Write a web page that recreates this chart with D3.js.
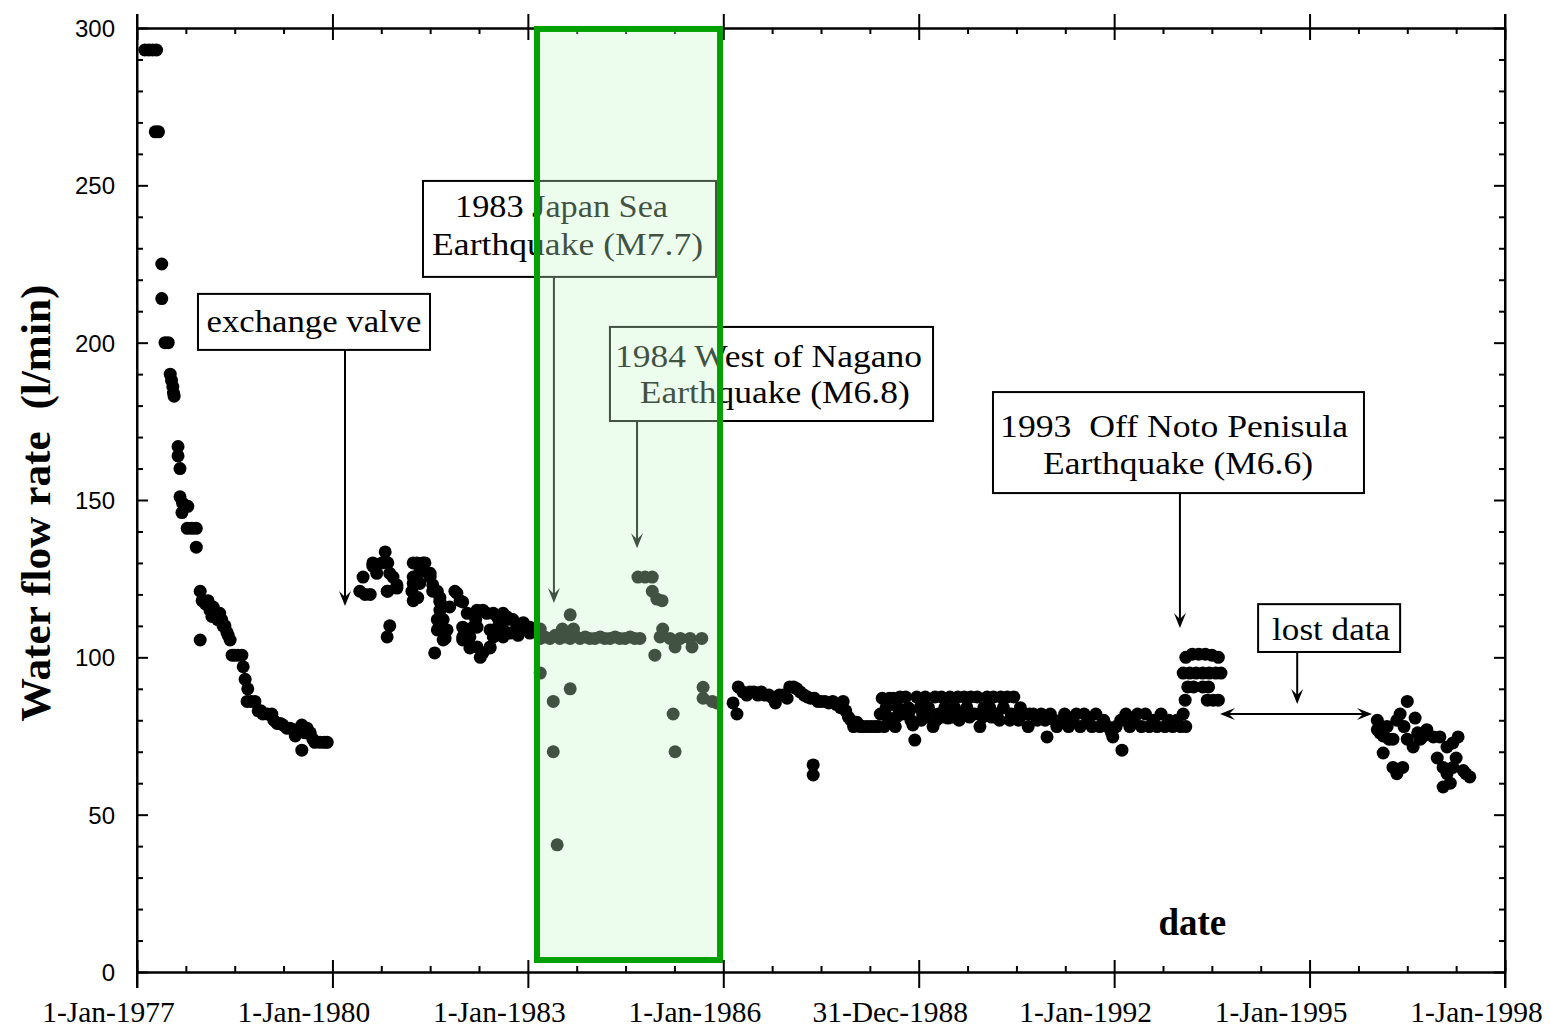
<!DOCTYPE html>
<html><head><meta charset="utf-8">
<script src="https://cdn.jsdelivr.net/npm/d3@7"></script>
<style>
html,body{margin:0;padding:0;background:#fff;}
svg{display:block;}
</style></head>
<body>
<svg id="chart" width="1550" height="1029"></svg>
<script>
// ---------- data: [decimal year, water flow rate (l/min)] ----------
const seg1977 = [
 [1977.12,293],[1977.18,293],[1977.24,293],[1977.30,293],
 [1977.28,267],[1977.33,267],
 [1977.38,225],[1977.38,214],
 [1977.43,200],[1977.48,200],
 [1977.51,190],[1977.53,188],[1977.55,186],[1977.56,184],[1977.57,183],
 [1977.63,167],[1977.63,164],[1977.66,160],
 [1977.66,151],[1977.70,149],[1977.78,148],[1977.69,146],
 [1977.77,141],[1977.84,141],[1977.91,141],
 [1977.91,135],
 [1977.97,121],[1978.00,118],[1978.05,117],[1978.09,118],[1978.12,115],[1978.15,113],[1978.17,116],
 [1978.20,114],[1978.27,114],[1978.24,112],[1978.30,112],[1978.32,110],[1978.35,110],[1978.38,108],
 [1978.40,107],[1978.43,105.5],
 [1977.97,105.5],
 [1978.46,100.7],[1978.50,100.7],[1978.55,100.7],[1978.61,100.7],[1978.63,97],[1978.66,93],[1978.70,90],
 [1978.69,86],[1978.75,86],[1978.81,86],[1978.86,83],[1978.90,83],[1978.93,82],[1979.00,82],[1979.07,82],
 [1979.10,80],[1979.15,79],[1979.20,79],[1979.24,78.5],[1979.30,77.5],[1979.35,77.5],[1979.40,77],
 [1979.43,75],[1979.47,76],[1979.53,78.5],[1979.58,76],
 [1979.61,77.5],[1979.53,70.5],[1979.66,76],[1979.70,74],[1979.73,73],[1979.81,73],[1979.88,73],[1979.92,73]
];
const seg1980 = [
 [1980.47,125.5],[1980.42,121],[1980.50,120],[1980.62,129],[1980.81,133.5],[1980.76,130],
 [1980.88,126.7],[1980.84,121],[1980.99,123],[1980.88,110],[1980.84,106.5],
 [1980.62,130],[1980.85,130],[1980.68,126.7],[1980.93,125.5],[1980.58,120],[1980.85,121],[1980.99,122],
 [1981.24,130],[1981.30,130],[1981.39,130],[1981.42,130],[1981.34,127],[1981.24,125.5],[1981.50,125.5],
 [1981.24,123.5],[1981.34,123.5],[1981.50,126.7],[1981.22,121],[1981.31,119],[1981.54,121],[1981.65,119],
 [1981.54,123],[1981.61,121],[1981.24,118],[1981.65,118],[1981.88,121],[1981.91,120.4],[1981.96,118],
 [1981.65,117.6],[1981.80,116],[1982.00,117.6],
 [1981.65,115],[1981.70,112],[1981.61,112],[1981.61,108.7],[1981.65,108.7],[1981.76,108.7],[1981.70,105.5],
 [1981.73,106],[1981.57,101.4],
 [1982.07,114],[1982.22,115],[1982.37,114],[1982.00,109.6],[1982.11,106.5],[1982.00,105.5],[1982.22,103.3],
 [1982.31,101.4],[1982.42,103.3],
 [1982.00,106.5],[1982.11,103],[1982.27,100],[1982.31,115],[1982.16,109.6],[1982.22,109.6],
 [1982.20,112],[1982.42,103],[1982.47,114],[1982.55,110],[1982.62,114],[1982.42,108.7],
 [1982.53,112.8],[1982.68,112.8],[1982.77,112],[1982.93,111],[1983.03,109.6],
 [1982.62,108.7],[1982.83,108.7],[1982.47,106.5],[1982.62,106.5],
 [1982.68,112],[1982.73,107.7],[1982.83,109.6],[1982.85,107],[1982.93,108.7],[1983.03,107.7]
];
const seg1983 = [
 [1983.19,106],[1983.26,106.5],[1983.34,106],[1983.42,107],[1983.49,106],[1983.57,106.5],
 [1983.65,106],[1983.72,107],[1983.80,106],[1983.88,106.5],[1983.95,106],[1984.03,106],
 [1984.11,106.5],[1984.18,106],[1984.26,106],[1984.34,106.5],[1984.41,106],[1984.49,106],
 [1984.57,106.5],[1984.64,106],[1984.72,106],
 [1983.19,109],[1983.53,109],[1983.70,109],[1983.65,113.5],
 [1983.19,95],[1983.65,90],[1983.39,86],[1983.39,70],[1983.45,40.4],
 [1984.69,125.5],[1984.80,125.5],[1984.91,125.5],[1984.91,121],[1984.98,118.5],[1985.06,118],
 [1985.07,109],[1985.03,106.5],[1985.18,106],[1985.34,106],[1985.49,106],[1985.67,106],
 [1985.26,103.3],[1985.52,103.3],[1984.95,100.7],[1985.23,82],[1985.26,70],
 [1985.69,90.5],[1985.69,87],[1985.83,86],[1985.90,85.5]
];
const seg1986 = [
 [1986.15,85.5],[1986.21,82],[1986.23,90.6],[1986.30,89],[1986.36,88],[1986.41,89],[1986.47,89],
 [1986.53,88],[1986.58,89],[1986.64,88],[1986.70,88],[1986.76,87],[1986.80,85.5],[1986.86,88],
 [1986.92,88],[1986.98,87],[1987.02,90.6],[1987.08,90.6],[1987.13,90],[1987.18,89],[1987.24,88],
 [1987.29,87.4],[1987.34,87],[1987.40,87],[1987.45,86],[1987.50,86],[1987.56,86],[1987.62,85.5],
 [1987.68,86],[1987.74,85],[1987.80,84],[1987.84,86],[1987.88,83],[1987.92,81],[1987.96,80],
 [1988.00,78],[1988.05,79.4],[1988.10,78],[1988.15,78],[1988.21,78],[1988.27,78],[1988.33,78],
 [1988.38,78],[1988.41,82],[1988.44,87],[1988.47,78],[1988.50,84],[1988.55,87],[1988.58,80],
 [1988.61,87],[1988.64,78],[1988.68,84],[1988.71,87.4],[1988.75,82],[1988.80,87.4],[1988.84,84],
 [1988.88,80],[1988.91,78.5],[1988.94,73.7],[1988.97,87.4],[1989.02,84],[1989.06,82],[1989.10,87.4],
 [1989.15,84],[1989.22,78],[1989.25,87.4],[1989.30,82],[1989.35,87.4],[1989.40,84],[1989.45,80.7],
 [1989.48,87.4],[1989.55,84],[1989.60,87.4],[1989.65,82],[1989.70,87.4],[1989.74,84],[1989.80,87.4],
 [1989.86,82],[1989.90,87.4],[1989.94,78],[1990.00,84],[1990.05,87.4],[1990.09,84],[1990.15,87.4],
 [1990.20,82],[1990.26,87.4],[1990.30,84],[1990.36,87.4],[1990.42,82],[1990.46,87.4],[1990.50,82],
 [1988.52,81],[1988.66,81],[1988.86,83],[1989.04,80],[1989.12,81],[1989.27,80],[1989.38,81],
 [1989.52,81],[1989.62,80],[1989.78,81],[1989.98,81],[1990.12,81],[1990.24,80],[1990.40,80],[1990.53,80],
 [1990.56,84],[1990.62,82],[1990.68,78],[1990.70,82],[1990.76,82],[1990.82,80],[1990.88,82],
 [1990.94,80],[1990.97,74.7],[1991.02,82],[1991.08,80],[1991.12,78],[1991.18,80],[1991.24,82],
 [1991.30,78],[1991.36,80],[1991.42,82],[1991.48,78],[1991.54,82],[1991.60,80],[1991.66,78],
 [1991.72,82],[1991.78,78],[1991.84,80],[1991.90,78],[1991.96,76],[1991.98,74.7],[1992.03,78],
 [1992.12,70.5],[1992.10,80],[1992.18,82],[1992.24,78],[1992.30,80],[1992.36,82],[1992.42,78],
 [1992.48,82],[1992.54,78],[1992.60,80],[1992.66,78],[1992.72,82],[1992.78,78],[1992.84,80],
 [1992.90,78],[1992.96,80],[1993.02,78],[1993.06,82],[1993.10,78],
 [1987.38,65.8],[1987.38,62.6]
];
const seg1993 = [
 [1993.10,100],[1993.20,101],[1993.30,101],[1993.40,101],[1993.50,100.7],[1993.60,100],
 [1993.06,95],[1993.16,95],[1993.26,95],[1993.36,95],[1993.46,95],[1993.56,95],[1993.64,95],
 [1993.13,90.6],[1993.22,90.6],[1993.36,90.6],[1993.45,90.6],
 [1993.09,86.4],[1993.43,86.4],[1993.52,86.4],[1993.60,86.4]
];
const seg1996 = [
 [1996.04,80],[1996.04,77],[1996.08,76],[1996.10,78],[1996.13,69.6],[1996.13,75],[1996.19,78],
 [1996.22,74],[1996.28,74],[1996.28,65],[1996.34,63],[1996.43,65],[1996.34,80],[1996.39,82],
 [1996.50,86],[1996.50,74],[1996.45,78],[1996.59,71.5],[1996.62,80.7],[1996.70,74],[1996.66,76],
 [1996.75,75],[1996.80,77],[1996.90,74.7],[1996.96,68],[1997.00,74.7],[1997.05,65],[1997.11,63],
 [1997.11,71.5],[1997.05,58.8],[1997.16,60],[1997.20,65],[1997.28,74.7],[1997.20,72.8],
 [1997.25,68],[1997.36,64],[1997.46,62],[1997.40,63]
];

// ---------- axes ----------
const majorYears = [1977,1980,1983,1986,1989,1992,1995,1998];
const xTickLabels = ["1-Jan-1977","1-Jan-1980","1-Jan-1983","1-Jan-1986","31-Dec-1988","1-Jan-1992","1-Jan-1995","1-Jan-1998"];
const yMajor = [0,50,100,150,200,250,300];
const yTitle = "Water flow rate  (l/min)";
const xTitle = "date";

// ---------- annotations (data units) ----------
const boxes = [
 {x0:1977.936,x1:1981.498,y0:215.5,y1:197.7, lines:[{t:"exchange valve",cx:1979.717,y:203.4,w:215}]},
 {x0:1981.39,x1:1985.888,y0:251.4,y1:220.9, lines:[{t:"1983 Japan Sea",cx:1983.517,y:239.9,w:213},{t:"Earthquake (M7.7)",cx:1983.61,y:227.9,w:271}]},
 {x0:1984.26,x1:1989.22,y0:205.0,y1:175.1, lines:[{t:"1984 West of Nagano",cx:1986.694,y:192.3,w:307},{t:"Earthquake (M6.8)",cx:1986.79,y:180.8,w:270}]},
 {x0:1990.14,x1:1995.835,y0:184.3,y1:152.2, lines:[{t:"1993  Off Noto Penisula",cx:1992.92,y:170.0,w:348},{t:"Earthquake (M6.6)",cx:1992.98,y:158.3,w:270}]},
 {x0:1994.21,x1:1996.39,y0:116.9,y1:101.7, lines:[{t:"lost data",cx:1995.33,y:105.5,w:118}]}
];
const downArrows = [
 {x:1980.193,from:197.7,to:116.3},
 {x:1983.40,from:220.9,to:117.3},
 {x:1984.676,from:175.1,to:134.7},
 {x:1993.01,from:152.2,to:109.3},
 {x:1994.81,from:101.7,to:85.2}
];
const lostSpan = {x0:1993.625,x1:1995.958,y:82.0};
const highlight = {x0:1983.14,x1:1985.95,y0:299.7,y1:3.8};

// ---------- drawing ----------
const svg = d3.select("#chart");
const L=137,R=1505,T=28,B=972;
const x = d3.scaleLinear().domain([1977,1998]).range([L,R]);
const y = d3.scaleLinear().domain([0,300]).range([B,T]);

const minorYears = d3.range(1977,1998.01,0.75).filter(v=>!majorYears.includes(v));
const yMinor = d3.range(0,301,10).filter(v=>v%50!==0);

const ax = svg.append("g").attr("class","axes");
function styleAxis(g){ g.select(".domain").attr("stroke","#000").attr("stroke-width",2); g.selectAll(".tick line").attr("stroke","#000").attr("stroke-width",2); }

// bottom
ax.append("g").attr("transform",`translate(0,${B})`)
 .call(d3.axisBottom(x).tickValues(minorYears).tickSize(-6).tickFormat("").tickSizeOuter(0))
 .call(styleAxis);
const botAx = ax.append("g").attr("transform",`translate(0,${B})`)
 .call(d3.axisBottom(x).tickValues(majorYears).tickSize(16).tickSizeOuter(0).tickFormat((d,i)=>xTickLabels[i]))
 .call(styleAxis);
botAx.selectAll(".tick line").attr("y1",-12);
botAx.selectAll(".tick text").attr("x",-29).attr("y",50).attr("dy",0)
 .attr("font-family","'Liberation Serif','Times New Roman',serif").attr("font-size",29.5).attr("fill","#000");
// top
ax.append("g").attr("transform",`translate(0,${T})`)
 .call(d3.axisTop(x).tickValues(minorYears).tickSize(-6).tickFormat("").tickSizeOuter(0)).call(styleAxis);
const topAx = ax.append("g").attr("transform",`translate(0,${T})`)
 .call(d3.axisTop(x).tickValues(majorYears).tickSize(14).tickFormat("").tickSizeOuter(0)).call(styleAxis);
topAx.selectAll(".tick line").attr("y1",12);
// left
ax.append("g").attr("transform",`translate(${L},0)`)
 .call(d3.axisLeft(y).tickValues(yMinor).tickSize(-6).tickFormat("").tickSizeOuter(0)).call(styleAxis);
const leftAx = ax.append("g").attr("transform",`translate(${L},0)`)
 .call(d3.axisLeft(y).tickValues(yMajor).tickSize(-11).tickSizeOuter(0)).call(styleAxis);
leftAx.selectAll(".tick text").attr("x",-22).attr("dy","0.36em")
 .attr("font-family","'Liberation Sans',Arial,sans-serif").attr("font-size",24).attr("fill","#000");
leftAx.select(".domain").attr("d",`M0,${T-14}V${B+16}`);
// right
ax.append("g").attr("transform",`translate(${R},0)`)
 .call(d3.axisRight(y).tickValues(yMinor).tickSize(-6).tickFormat("").tickSizeOuter(0)).call(styleAxis);
const rightAx = ax.append("g").attr("transform",`translate(${R},0)`)
 .call(d3.axisRight(y).tickValues(yMajor).tickSize(-11).tickFormat("").tickSizeOuter(0)).call(styleAxis);
rightAx.select(".domain").attr("d",`M0,${T-14}V${B+16}`);

// titles
svg.append("text").attr("transform",`translate(50,${(y(300)+y(0))/2+3}) rotate(-90)`)
 .attr("text-anchor","middle").attr("font-family","'Liberation Serif','Times New Roman',serif")
 .attr("font-weight","bold").attr("font-size",42).attr("textLength",437).attr("lengthAdjust","spacingAndGlyphs")
 .style("white-space","pre").text(yTitle);
svg.append("text").attr("x",x(1993.2)).attr("y",y(11.8)).attr("text-anchor","middle")
 .attr("font-family","'Liberation Serif','Times New Roman',serif").attr("font-weight","bold").attr("font-size",37)
 .text(xTitle);

// points
const allPts = [].concat(seg1977,seg1980,seg1983,seg1986,seg1993,seg1996);
svg.append("g").selectAll("circle").data(allPts).join("circle")
 .attr("cx",d=>x(d[0])).attr("cy",d=>y(d[1])).attr("r",6.5).attr("fill","#000");

// annotations
const an = svg.append("g");
const serif = "'Liberation Serif','Times New Roman',serif";
boxes.forEach(b=>{
  an.append("rect").attr("x",x(b.x0)).attr("y",y(b.y0)).attr("width",x(b.x1)-x(b.x0)).attr("height",y(b.y1)-y(b.y0))
    .attr("fill","#fff").attr("stroke","#000").attr("stroke-width",2);
  b.lines.forEach(l=>{
    an.append("text").attr("x",x(l.cx)).attr("y",y(l.y)).attr("text-anchor","middle")
      .attr("font-family",serif).attr("font-size",31).attr("textLength",l.w).attr("lengthAdjust","spacingAndGlyphs")
      .style("white-space","pre").attr("fill","#000").text(l.t);
  });
});
function head(px,py,angle){
  an.append("path").attr("d","M0,0 L-6,-15 L0,-9 L6,-15 Z").attr("fill","#000")
    .attr("transform",`translate(${px},${py}) rotate(${angle})`);
}
downArrows.forEach(a=>{
  an.append("line").attr("x1",x(a.x)).attr("x2",x(a.x)).attr("y1",y(a.from)).attr("y2",y(a.to)-4)
    .attr("stroke","#000").attr("stroke-width",2);
  head(x(a.x),y(a.to),0);
});
an.append("line").attr("x1",x(lostSpan.x0)+4).attr("x2",x(lostSpan.x1)-4).attr("y1",y(lostSpan.y)).attr("y2",y(lostSpan.y))
  .attr("stroke","#000").attr("stroke-width",2);
head(x(lostSpan.x0),y(lostSpan.y),90);
head(x(lostSpan.x1),y(lostSpan.y),-90);

// highlight overlay
svg.append("rect").attr("x",x(highlight.x0)).attr("y",y(highlight.y0))
  .attr("width",x(highlight.x1)-x(highlight.x0)).attr("height",y(highlight.y1)-y(highlight.y0))
  .attr("fill","rgb(200,248,200)").attr("fill-opacity",0.33)
  .attr("stroke","#00a000").attr("stroke-width",6);
</script>
</body></html>
